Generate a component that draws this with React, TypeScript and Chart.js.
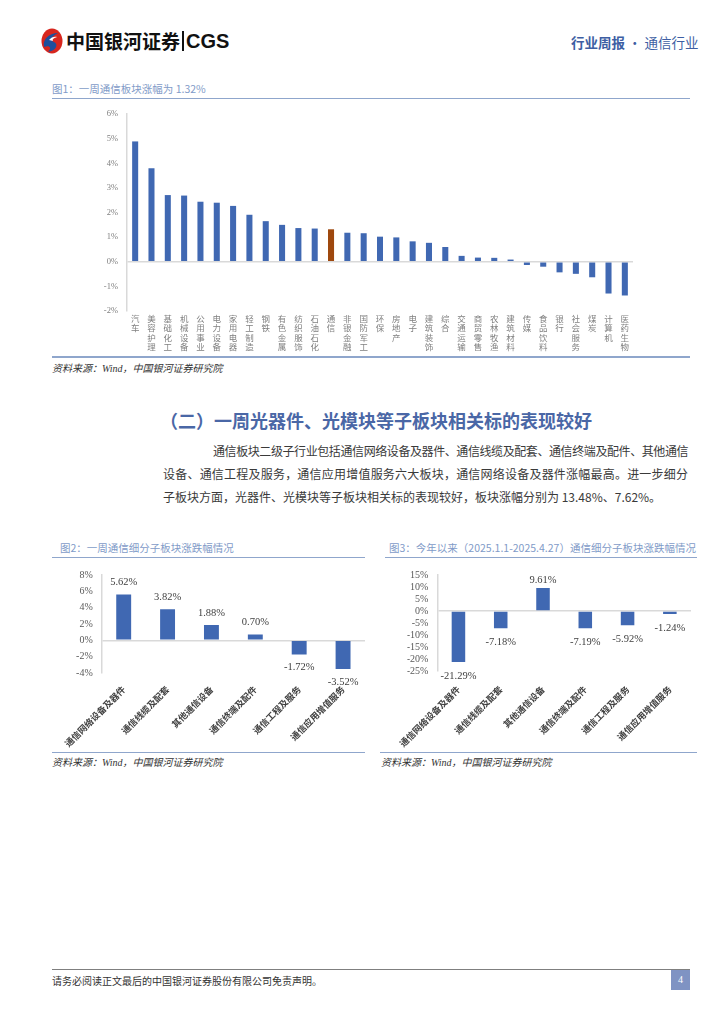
import React, { useEffect, useRef } from 'react';
import { Chart, registerables } from 'chart.js';

Chart.register(...registerables);

// ---------- data ----------
const industries = [
  '汽车', '美容护理', '基础化工', '机械设备', '公用事业', '电力设备', '家用电器', '轻工制造',
  '钢铁', '有色金属', '纺织服饰', '石油石化', '通信', '非银金融', '国防军工', '环保',
  '房地产', '电子', '建筑装饰', '综合', '交通运输', '商贸零售', '农林牧渔', '建筑材料',
  '传媒', '食品饮料', '银行', '社会服务', '煤炭', '计算机', '医药生物',
];
const weeklyIndustryChange = [
  4.89, 3.80, 2.71, 2.69, 2.44, 2.40, 2.27, 1.91,
  1.65, 1.50, 1.37, 1.35, 1.32, 1.18, 1.16, 1.02,
  0.99, 0.83, 0.77, 0.60, 0.24, 0.17, 0.16, 0.09,
  -0.13, -0.20, -0.43, -0.49, -0.63, -1.29, -1.37,
];
const highlightIndustry = '通信';

const subSectors = ['通信网络设备及器件', '通信线缆及配套', '其他通信设备', '通信终端及配件', '通信工程及服务', '通信应用增值服务'];
const weeklySubChange = [5.62, 3.82, 1.88, 0.70, -1.72, -3.52];
const ytdSubChange = [-21.29, -7.18, 9.61, -7.19, -5.92, -1.24];

const fig1Axis = { min: -2, max: 6, step: 1 };
const fig2Axis = { min: -4, max: 8, step: 2 };
const fig3Axis = { min: -25, max: 15, step: 5 };

const paragraphLines = [
  '通信板块二级子行业包括通信网络设备及器件、通信线缆及配套、通信终端及配件、其他通信',
  '设备、通信工程及服务，通信应用增值服务六大板块，通信网络设备及器件涨幅最高。进一步细分',
  '子板块方面，光器件、光模块等子板块相关标的表现较好，板块涨幅分别为 13.48%、7.62%。',
];

// ---------- styles ----------
const BLUE = '#4068b2';
const ORANGE = '#9e480e';
const AXIS = '#d9d9d9';
const SERIF = "'Liberation Serif', 'Noto Sans CJK SC', serif";
const CJK = "'Noto Sans CJK SC', 'Liberation Sans', sans-serif";

const valueLabels = {
  id: 'valueLabels',
  afterDatasetsDraw(chart: any, _args: any, opts: any) {
    if (!opts || !opts.display) return;
    const ctx = chart.ctx;
    const meta = chart.getDatasetMeta(0);
    const data = chart.data.datasets[0].data as number[];
    ctx.save();
    ctx.font = `${opts.size || 10}px ${SERIF}`;
    ctx.fillStyle = '#404040';
    ctx.textAlign = 'center';
    ctx.textBaseline = 'middle';
    meta.data.forEach((el: any, i: number) => {
      const v = data[i];
      const y = v >= 0 ? el.y - opts.posOffset : el.y + opts.negOffset;
      ctx.fillText(v.toFixed(2) + '%', el.x, y);
    });
    ctx.restore();
  },
};

type ChartProps = {
  width: number;
  height: number;
  config: any;
};

function ChartCanvas({ width, height, config }: ChartProps) {
  const ref = useRef<HTMLCanvasElement | null>(null);
  useEffect(() => {
    if (!ref.current) return;
    const chart = new Chart(ref.current, config);
    return () => chart.destroy();
  }, []);
  return <canvas ref={ref} width={width} height={height} style={{ width, height, display: 'block' }} />;
}

function zeroGrid(ctx: any) {
  return ctx.tick && ctx.tick.value === 0 ? AXIS : 'rgba(0,0,0,0)';
}

const fig1Config = {
  type: 'bar',
  data: {
    labels: industries.map((s) => s.split('')),
    datasets: [
      {
        data: weeklyIndustryChange,
        backgroundColor: industries.map((n) => (n === highlightIndustry ? ORANGE : BLUE)),
        barPercentage: 0.37,
        categoryPercentage: 1,
      },
    ],
  },
  options: {
    responsive: false,
    animation: false,
    layout: { padding: { left: 45, right: 57, top: 6, bottom: 0 } },
    plugins: { legend: { display: false }, tooltip: { enabled: false } },
    scales: {
      x: {
        grid: { display: false, drawTicks: false },
        border: { display: false },
        ticks: {
          autoSkip: false,
          maxRotation: 0,
          minRotation: 0,
          padding: 3,
          color: '#808080',
          font: { family: CJK, size: 8.5, lineHeight: 1.1 },
        },
        afterFit: (s: any) => { s.height = 44; },
      },
      y: {
        min: fig1Axis.min,
        max: fig1Axis.max,
        grid: { color: zeroGrid, lineWidth: 1.5, drawTicks: false },
        border: { display: true, color: AXIS, width: 1.5 },
        ticks: {
          stepSize: fig1Axis.step,
          autoSkip: false,
          padding: 9,
          color: '#7f7f7f',
          font: { family: SERIF, size: 8.5 },
          callback: (v: any) => v + '%',
        },
        afterFit: (s: any) => { s.width = 30; },
      },
    },
  },
};

function subConfig(values: number[], axis: any, pad: any, barPct: number, posOff: number, negOff: number, xHeight: number, xPad: number) {
  return {
    type: 'bar',
    data: {
      labels: subSectors,
      datasets: [{ data: values, backgroundColor: BLUE, barPercentage: barPct, categoryPercentage: 1 }],
    },
    plugins: [valueLabels],
    options: {
      responsive: false,
      animation: false,
      layout: { padding: pad },
      plugins: {
        legend: { display: false },
        tooltip: { enabled: false },
        valueLabels: { display: true, posOffset: posOff, negOffset: negOff, size: 10.5 },
      },
      scales: {
        x: {
          grid: { display: false, drawTicks: false },
          border: { display: false },
          ticks: {
            autoSkip: false,
            minRotation: 45,
            maxRotation: 45,
            padding: xPad,
            color: '#404040',
            font: { family: CJK, size: 9, weight: 'bold' },
          },
          afterFit: (s: any) => { s.height = xHeight; },
        },
        y: {
          min: axis.min,
          max: axis.max,
          grid: { color: zeroGrid, lineWidth: 1.5, drawTicks: false },
          border: { display: true, color: AXIS, width: 1.5 },
          ticks: {
            stepSize: axis.step,
            autoSkip: false,
            padding: 9,
            color: '#595959',
            font: { family: SERIF, size: 10 },
            callback: (v: any) => v + '%',
          },
          afterFit: (s: any) => { s.width = 30; },
        },
      },
    },
  };
}

const fig2Config = subConfig(weeklySubChange, fig2Axis, { left: 11, right: 7, top: 11, bottom: 0 }, 0.34, 12, 13, 77, 11);
const fig3Config = subConfig(ytdSubChange, fig3Axis, { left: 8, right: 6, top: 12, bottom: 0 }, 0.32, 8, 14, 79, 13);

// ---------- layout helpers ----------
const abs = (left: number, top: number, extra: any = {}): React.CSSProperties => ({ position: 'absolute', left, top, ...extra });
const TITLE_COLOR = '#7f9bc8';
const LINE_COLOR = '#8fa6cc';

function HLine({ x1, x2, y, color = LINE_COLOR, w = 1.5 }: { x1: number; x2: number; y: number; color?: string; w?: number }) {
  return <div style={abs(x1, y, { width: x2 - x1, height: w, background: color })} />;
}

function Caption({ x, y, text, size = 10.5 }: { x: number; y: number; text: string; size?: number }) {
  return (
    <div style={abs(x, y, { fontFamily: CJK, fontSize: size, color: TITLE_COLOR, whiteSpace: 'nowrap', lineHeight: '14px' })}>{text}</div>
  );
}

function Source({ x, y }: { x: number; y: number }) {
  return (
    <div style={abs(x, y, { fontFamily: SERIF, fontSize: 10, fontStyle: 'italic', color: '#333', whiteSpace: 'nowrap', lineHeight: '14px' })}>
      资料来源：Wind，中国银河证券研究院
    </div>
  );
}

function ParaLine({ x, y, width, text, justify, spacing = 0 }: { x: number; y: number; width: number; text: string; justify: boolean; spacing?: number }) {
  return (
    <div
      style={abs(x, y, {
        width,
        fontFamily: CJK,
        fontSize: 12,
        letterSpacing: spacing,
        color: '#3a3a3a',
        lineHeight: '23px',
        whiteSpace: 'nowrap',
        textAlign: justify ? 'justify' : 'left',
        textAlignLast: justify ? 'justify' : 'left',
      })}
    >
      {text}
    </div>
  );
}

export default function App() {
  return (
    <div style={{ position: 'absolute', left: 0, top: 0, width: 724, height: 1024, background: '#fff', overflow: 'hidden' }}>
      {/* header */}
      <svg style={abs(40, 27)} width={24} height={28} viewBox="0 0 24 28">
        <ellipse cx="12" cy="14" rx="10.5" ry="12.5" fill="#d7261e" />
        <path d="M4 20 C 2 12, 10 6, 18 6 C 12 9, 9 13, 14 15 C 19 17, 16 24, 8 25 C 12 21, 10 18, 4 20 Z" fill="#1d4f9c" />
        <path d="M9 13 C 11 10, 15 9, 17 10 C 14 11, 12 12, 13 14 Z" fill="#fff" />
      </svg>
      <div style={abs(66, 28, { fontFamily: CJK, fontWeight: 'bold', fontSize: 19, color: '#111', lineHeight: '26px', whiteSpace: 'nowrap' })}>
        中国银河证券
      </div>
      <div style={abs(182, 31, { width: 1.5, height: 20, background: '#111' })} />
      <div style={abs(186, 28, { fontFamily: "'Liberation Sans', Arial, sans-serif", fontWeight: 'bold', fontSize: 20, color: '#111', lineHeight: '26px' })}>
        CGS
      </div>
      <div style={abs(571, 33, { fontFamily: CJK, fontSize: 13.5, color: '#3d5ea3', lineHeight: '18px', whiteSpace: 'nowrap' })}>
        <span style={{ fontWeight: 'bold' }}>行业周报</span> · 通信行业
      </div>

      {/* figure 1 */}
      <Caption x={52} y={82} text="图1：一周通信板块涨幅为 1.32%" size={10.5} />
      <HLine x1={52} x2={690} y={97.5} />
      <div style={abs(52, 100)}>
        <ChartCanvas width={638} height={255} config={fig1Config} />
      </div>
      <HLine x1={52} x2={690} y={356} />
      <Source x={52} y={362} />

      {/* section heading */}
      <div style={abs(160, 408, { fontFamily: CJK, fontWeight: 'bold', fontSize: 18, color: '#4a67a6', lineHeight: '24px', whiteSpace: 'nowrap' })}>
        （二）一周光器件、光模块等子板块相关标的表现较好
      </div>
      <ParaLine x={213} y={439} width={475} text={paragraphLines[0]} justify={true} spacing={-0.5} />
      <ParaLine x={163} y={462} width={525} text={paragraphLines[1]} justify={true} />
      <ParaLine x={163} y={485} width={525} text={paragraphLines[2]} justify={false} />

      {/* figure 2 */}
      <Caption x={60} y={541} text="图2：一周通信细分子板块涨跌幅情况" />
      <HLine x1={52} x2={365} y={556.5} />
      <div style={abs(52, 560)}>
        <ChartCanvas width={320} height={190} config={fig2Config} />
      </div>
      <HLine x1={52} x2={365} y={751.5} />
      <Source x={52} y={756} />

      {/* figure 3 */}
      <Caption x={389} y={541} text="图3：今年以来（2025.1.1-2025.4.27）通信细分子板块涨跌幅情况" />
      <HLine x1={385} x2={697} y={556.5} />
      <div style={abs(385, 560)}>
        <ChartCanvas width={312} height={190} config={fig3Config} />
      </div>
      <HLine x1={380} x2={697} y={751.5} />
      <Source x={381} y={756} />

      {/* footer */}
      <HLine x1={52} x2={690} y={969} color="#7f7f7f" w={1} />
      <div style={abs(52, 974, { fontFamily: CJK, fontSize: 10, color: '#333', lineHeight: '14px', whiteSpace: 'nowrap' })}>
        请务必阅读正文最后的中国银河证券股份有限公司免责声明。
      </div>
      <div
        style={abs(671, 970, {
          width: 19,
          height: 20,
          background: '#7f93c3',
          color: '#fff',
          fontFamily: SERIF,
          fontSize: 10,
          lineHeight: '20px',
          textAlign: 'center',
        })}
      >
        4
      </div>
    </div>
  );
}
